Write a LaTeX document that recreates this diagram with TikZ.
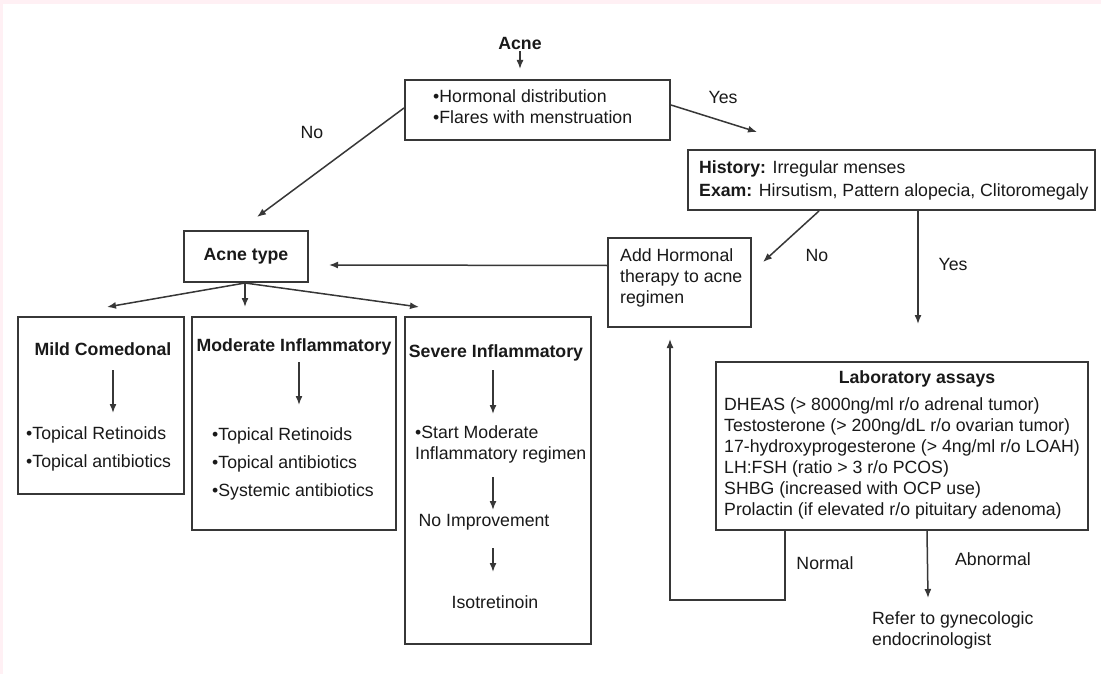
\documentclass[tikz,border=0pt]{standalone}
\usepackage{fontspec}
\setmainfont{Liberation Sans}
\usetikzlibrary{arrows.meta,calc}
\newcommand\fs{\fontsize{17.7}{21}\selectfont}
\definecolor{ln}{RGB}{55,55,55}
\definecolor{tx}{RGB}{25,25,25}
\definecolor{pk}{RGB}{255,240,244}
\tikzset{
  box/.style={draw=ln,line width=2pt,inner sep=0pt,rectangle},
  txt/.style={inner sep=0pt,font=\fs,text=tx,align=left},
  btxt/.style={inner sep=0pt,font=\fs\bfseries,text=tx},
  lbl/.style={inner sep=0pt,font=\fs,text=tx},
  arr/.style={draw=ln,line width=1.5pt,-{Latex[length=9pt,width=7pt]}},
}
\begin{document}
\begin{tikzpicture}[x=1pt,y=-1pt]
\fill[pk] (0,0) rectangle (1101,674);
\fill[white] (3,4) rectangle (1101,674);
\useasboundingbox (0,0) rectangle (1101,674);

% top
\node[btxt] (acne) at (520,43) {Acne};
\node[box,minimum width=265pt,minimum height=60pt] (hd) at (537.5,110) {};
\node[txt,anchor=north west] (hdt) at (433,89) {•Hormonal distribution\\•Flares with menstruation};

% history
\node[box,minimum width=407pt,minimum height=60pt] (hist) at (891.5,180) {};
\node[txt,anchor=north west] (histt) at (699,160) {\textbf{History:} Irregular menses\\[2pt]\textbf{Exam:} Hirsutism, Pattern alopecia, Clitoromegaly};

% add hormonal
\node[box,minimum width=143pt,minimum height=89pt] (addh) at (679.5,282.5) {};
\node[txt,anchor=north west] (addht) at (620,248) {Add Hormonal\\therapy to acne\\regimen};

% acne type
\node[box,minimum width=124pt,minimum height=51pt,font=\fs\bfseries,text=tx] (at) at (246,256.5) {Acne type};

% three types
\node[box,minimum width=166pt,minimum height=177pt] (mild) at (101,405.5) {};
\node[box,minimum width=204pt,minimum height=213pt] (mod) at (294,423.5) {};
\node[box,minimum width=186pt,minimum height=327pt] (sev) at (498,480.5) {};

\node[btxt] (mildt) at (103,349) {Mild Comedonal};
\node[txt,anchor=north west] (mildl) at (26,426) {•Topical Retinoids\\[7pt]•Topical antibiotics};

\node[btxt] (modt) at (294,347) {Moderate Inflammatory};
\node[txt,anchor=north west] (modl) at (212,427) {•Topical Retinoids\\[7pt]•Topical antibiotics\\[7pt]•Systemic antibiotics};

\node[btxt] (sevt) at (496,353) {Severe Inflammatory};
\node[txt,anchor=north west] (sevl) at (415,425) {•Start Moderate\\Inflammatory regimen};
\node[lbl] (noimp) at (484,522) {No Improvement};
\node[lbl] (iso) at (495,602) {Isotretinoin};

% lab
\node[box,minimum width=372pt,minimum height=168pt] (lab) at (902,446) {};
\node[btxt] (labt) at (917,379) {Laboratory assays};
\node[txt,anchor=north west] (labl) at (724,397) {DHEAS (> 8000ng/ml r/o adrenal tumor)\\Testosterone (> 200ng/dL r/o ovarian tumor)\\17-hydroxyprogesterone (> 4ng/ml r/o LOAH)\\LH:FSH (ratio > 3 r/o PCOS)\\SHBG (increased with OCP use)\\Prolactin (if elevated r/o pituitary adenoma)};
\node[txt,anchor=north west] (refer) at (872,611) {Refer to gynecologic\\endocrinologist};

% labels
\node[lbl] (lno1) at (312,132) {No};
\node[lbl] (lyes1) at (723,97) {Yes};
\node[lbl] (lno2) at (817,255) {No};
\node[lbl] (lyes2) at (953,264) {Yes};
\node[lbl] (lnorm) at (825,563) {Normal};
\node[lbl] (labn) at (993,559) {Abnormal};

% connectors
\draw[arr] ($(acne.south)+(0,2)$) -- ($(hd.north)+(-17.5,-10)$);
\draw[arr] ($(hd.west)+(0,-2)$) -- ($(at.north)+(11,-13)$);
\draw[arr] ($(hd.east)+(0,-5)$) -- ($(hist.north west)+(70,-17)$);
\draw[arr] ($(hist.south west)+(132,0)$) -- ($(addh.north east)+(11,25)$);
\draw[arr] ($(hist.south west)+(231,0)$) -- ($(lab.north west)+(203,-37)$);
\draw[arr] ($(addh.west)+(0,-17)$) -- ($(at.east)+(20,8.5)$);
\draw[arr] ($(at.south)+(-1,0)$) -- ($(mild.north)+(6,-9)$);
\draw[arr] ($(at.south)+(-1,0)$) -- ($(mod.north)+(-49,-9)$);
\draw[arr] ($(at.south)+(-1,0)$) -- ($(sev.north)+(-79,-9)$);
\draw[arr] ($(mildt.center)+(10,21)$) -- ($(mildl.north west)+(87,-13)$);
\draw[arr] ($(modt.center)+(5,15)$) -- ($(modl.north west)+(87,-22)$);
\draw[arr] ($(sevt.center)+(-3,17)$) -- ($(sevl.north west)+(78,-11)$);
\draw[arr] ($(sevl.north west)+(78,52)$) -- ($(noimp.center)+(9,-12)$);
\draw[arr] ($(noimp.center)+(9,26)$) -- ($(iso.center)+(-2,-30)$);
\draw[arr] ($(lab.south west)+(70,0)$) -- ++(0,69) -| ($(addh.south west)+(63,11)$);
\draw[arr] ($(lab.south west)+(212,0)$) -- ($(refer.north west)+(56,-13)$);
\end{tikzpicture}
\end{document}
